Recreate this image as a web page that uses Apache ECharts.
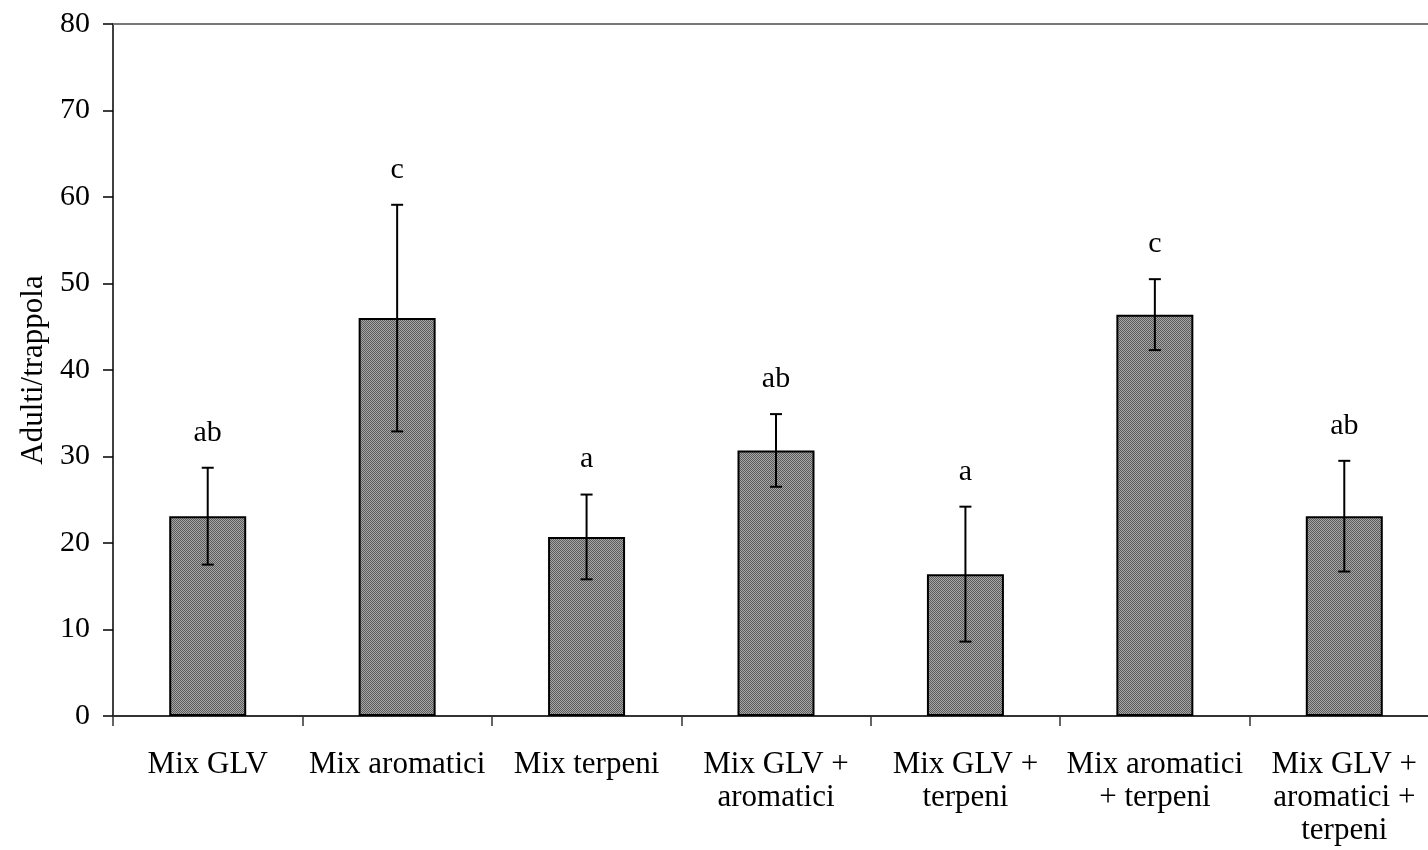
<!DOCTYPE html>
<html>
<head>
<meta charset="utf-8">
<script src="https://cdn.jsdelivr.net/npm/echarts@6/dist/echarts.min.js"></script>
<style>
html,body{margin:0;padding:0;background:#fff;}
#chart{width:1428px;height:850px;}
</style>
</head>
<body>
<div id="chart"></div>
<script>
// ---- data ----
var categories = ['Mix GLV', 'Mix aromatici', 'Mix terpeni', 'Mix GLV +\naromatici', 'Mix GLV +\nterpeni', 'Mix aromatici\n+ terpeni', 'Mix GLV +\naromatici +\nterpeni'];
var means = [23.1, 46.0, 20.7, 30.7, 16.4, 46.4, 23.1];
var errors = [5.6, 13.1, 4.9, 4.2, 7.8, 4.1, 6.4];
var letters = ['ab', 'c', 'a', 'ab', 'a', 'c', 'ab'];
var yTicks = [0, 10, 20, 30, 40, 50, 60, 70, 80];
var yAxisTitle = 'Adulti/trappola';

// ---- pattern fill ----
var pc = document.createElement('canvas');
pc.width = 2; pc.height = 2;
var pctx = pc.getContext('2d');
pctx.fillStyle = '#a6a6a6'; pctx.fillRect(0, 0, 2, 2);
pctx.fillStyle = '#5c5c5c'; pctx.fillRect(0, 0, 1, 1); pctx.fillRect(1, 1, 1, 1);

var FONT = '"Liberation Serif", "Times New Roman", serif';

var chart = echarts.init(document.getElementById('chart'), null, {renderer: 'canvas'});
var errData = means.map(function (m, i) { return [i, m, errors[i]]; });

chart.setOption({
  animation: false,
  backgroundColor: '#fff',
  grid: {left: 113, right: -11, top: 24, bottom: 134, containLabel: false, outerBoundsMode: 'none'},
  xAxis: {
    type: 'category',
    data: categories,
    axisLine: {lineStyle: {color: '#333', width: 2}},
    axisTick: {show: true, alignWithLabel: false, length: 10, lineStyle: {color: '#333', width: 1.5}},
    axisLabel: {interval: 0, color: '#000', fontFamily: FONT, fontSize: 31, lineHeight: 33, margin: 32}
  },
  yAxis: {
    type: 'value',
    min: yTicks[0], max: yTicks[yTicks.length - 1], interval: yTicks[1] - yTicks[0],
    name: yAxisTitle,
    nameLocation: 'middle',
    nameGap: 63,
    nameTextStyle: {color: '#000', fontFamily: FONT, fontSize: 31},
    axisLine: {show: true, lineStyle: {color: '#000', width: 1.5}},
    axisTick: {show: true, length: 10, lineStyle: {color: '#000', width: 1.5}},
    axisLabel: {color: '#000', fontFamily: FONT, fontSize: 30, margin: 23},
    splitLine: {show: false}
  },
  series: [
    {
      type: 'bar',
      data: means,
      barWidth: 77,
      itemStyle: {color: {image: pc, repeat: 'repeat'}, borderColor: '#000', borderWidth: 2},
      markLine: {
        silent: true,
        symbol: ['none', 'none'],
        label: {show: false},
        lineStyle: {color: '#777', width: 2, type: 'solid'},
        data: [{yAxis: yTicks[yTicks.length - 1]}]
      }
    },
    {
      type: 'custom',
      data: errData,
      z: 5,
      renderItem: function (params, api) {
        var i = api.value(0), m = api.value(1), e = api.value(2);
        var top = api.coord([i, m + e]);
        var bot = api.coord([i, m - e]);
        var cw = 6;
        var ls = {stroke: '#000', lineWidth: 2};
        return {
          type: 'group',
          children: [
            {type: 'line', shape: {x1: top[0], y1: top[1], x2: bot[0], y2: bot[1]}, style: ls},
            {type: 'line', shape: {x1: top[0] - cw, y1: top[1], x2: top[0] + cw, y2: top[1]}, style: ls},
            {type: 'line', shape: {x1: bot[0] - cw, y1: bot[1], x2: bot[0] + cw, y2: bot[1]}, style: ls},
            {type: 'text', style: {x: top[0], y: top[1] - 20, text: letters[params.dataIndex], fill: '#000', font: '30px ' + FONT, align: 'center', verticalAlign: 'bottom'}}
          ]
        };
      }
    }
  ]
});
</script>
</body>
</html>
